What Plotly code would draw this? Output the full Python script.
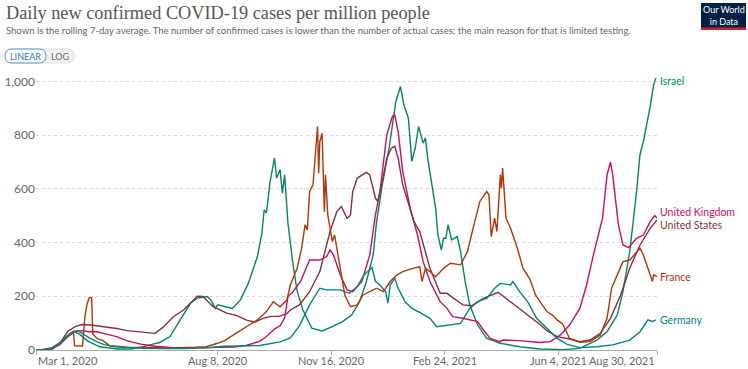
import pandas as pd
import plotly.graph_objects as go

START = pd.Timestamp("2020-03-01")

# Days since 2020-03-01 and 7-day average cases per million
israel_days = [0,7,14,21,28,33,38,45,56,72,83,92,103,109,118,127,136,142,151,154,158,160,165,173,180,187,195,199,201,203,206,210,212,215,217,219,222,226,230,235,243,252,261,270,278,285,291,297,300,305,311,317,321,324,328,331,334,337,341,343,345,349,352,354,357,359,361,363,366,371,374,378,382,389,397,409,426,444,464,479,494,503,512,517,523,529,532,535,538,541,544,546]
israel_values = [0.5,2,8,28,55,69,60,35,12,4,4,10,22,28,50,112,174,193,199,186,155,168,164,155,186,248,348,435,522,510,621,714,640,671,584,652,470,330,220,150,81,71,87,106,130,180,255,354,478,615,751,925,981,913,863,702,751,832,770,789,714,615,528,429,373,416,416,466,410,422,366,255,168,93,43,25,12,4,1.5,6,37,68,130,217,366,590,727,776,838,907,987,1012]

uk_days = [0,7,14,21,28,33,38,47,54,63,71,80,92,105,120,140,160,175,185,197,203,210,215,219,222,226,233,241,250,256,259,262,268,274,279,287,294,299,303,309,314,316,319,323,330,336,341,347,356,362,367,376,389,393,400,409,411,426,444,453,462,470,479,485,491,499,503,506,508,513,517,522,529,535,541,545,547]
uk_values = [0.3,1,4,20,50,66,72,68,68,58,50,35,22,14,9,8,9,11,17,32,50,78,90,120,200,215,255,335,335,348,373,354,280,224,217,255,354,503,590,801,870,875,813,665,520,429,329,255,180,155,124,118,106,81,43,31,37,35,28,31,56,93,155,242,354,490,652,699,652,466,391,381,416,428,478,500,491]

us_days = [0,7,14,21,28,35,41,50,59,71,80,95,105,112,121,130,142,147,156,168,177,186,193,200,207,214,221,224,232,241,250,259,265,269,274,277,279,283,291,294,299,301,305,309,313,316,319,323,329,333,338,347,356,362,367,376,384,394,407,418,426,435,444,450,459,468,479,488,497,506,515,523,532,541,547]
us_values = [0.1,0.5,3,25,70,88,95,92,87,80,72,65,62,85,124,149,200,199,161,137,128,110,104,118,125,125,135,149,168,217,292,441,515,534,490,503,590,640,661,652,565,553,627,714,751,758,714,615,528,478,441,304,211,211,195,168,165,192,215,180,155,125,95,72,50,43,31,37,62,118,205,304,391,453,484]

france_days = [0,7,14,21,28,33,34,41,43,45,47,49,50,54,59,65,80,100,120,140,150,160,167,176,186,195,203,209,215,221,224,230,234,237,239,241,244,246,248,249,250,252,254,255,257,261,263,268,272,277,283,288,294,300,306,312,318,323,332,338,340,343,347,352,359,365,374,380,385,391,397,399,401,404,406,409,410,411,414,418,424,429,435,440,444,450,455,459,464,470,479,488,497,503,507,512,517,523,529,532,535,539,543,544,547]
france_values = [0.5,2,8,25,50,66,16,15,121,172,195,195,60,42,35,16,10,8,8,10,12,25,37,62,87,112,143,180,161,186,242,304,379,466,447,590,615,714,832,658,776,807,515,652,503,404,428,304,205,161,168,205,217,230,217,255,280,292,304,310,255,304,292,273,304,323,317,366,453,553,590,578,422,491,441,652,602,677,491,453,379,304,264,205,180,143,130,112,96,43,29,31,56,118,230,280,329,335,366,379,354,304,255,280,273]

germany_days = [0,7,14,21,28,33,37,42,47,54,60,70,80,95,110,130,150,165,180,197,215,224,232,241,250,256,268,276,283,289,296,299,303,308,310,312,316,319,325,331,338,347,353,365,374,382,389,397,404,409,418,420,426,433,441,450,459,468,479,494,508,523,532,539,543,546]
germany_values = [0.2,1,6,25,55,70,72,58,45,30,20,12,9,6,5,5,8,14,15,17,30,45,90,168,230,224,224,211,236,280,307,255,242,217,174,242,267,230,180,155,140,118,87,93,99,155,180,192,230,248,242,255,217,180,118,81,43,21,9,12,19,37,68,112,106,112]

country_names = ["Israel", "United Kingdom", "United States", "France", "Germany"]
country_colors = ["#00875E", "#CF0A66", "#883039", "#B13507", "#00847E"]

tick_dates = ["2020-03-01", "2020-08-08", "2020-11-16", "2021-02-24", "2021-06-04", "2021-08-30"]
tick_labels = ["Mar 1, 2020", "Aug 8, 2020", "Nov 16, 2020", "Feb 24, 2021", "Jun 4, 2021", "Aug 30, 2021"]
y_ticks = [0, 200, 400, 600, 800, 1000]
y_tick_labels = ["0", "200", "400", "600", "800", "1,000"]

W, H = 748, 369
L, R, T, B = 36, 91, 76, 19
PW, PH = W - L - R, H - T - B


def px(x):
    return (x - L) / PW


def py(y):
    return (H - B - y) / PH


series = [
    (israel_days, israel_values),
    (uk_days, uk_values),
    (us_days, us_values),
    (france_days, france_values),
    (germany_days, germany_values),
]

fig = go.Figure()
for (days, vals), name, color in zip(series, country_names, country_colors):
    assert len(days) == len(vals), name
    fig.add_trace(go.Scatter(
        x=START + pd.to_timedelta(days, unit="D"), y=vals, mode="lines",
        name=name, line=dict(color=color, width=1.4), hoverinfo="skip"))

annotations = []
# x tick labels
for i, (d, lab) in enumerate(zip(tick_dates, tick_labels)):
    anchor = "left" if i == 0 else ("right" if i == len(tick_dates) - 1 else "center")
    annotations.append(dict(x=d, xref="x", y=0, yref="paper", yanchor="top", yshift=-2,
                            xanchor=anchor, text=lab, showarrow=False,
                            font=dict(family="Lato", size=11, color="#666")))

# line end labels (positions in value units; UK/US nudged apart as in the original)
label_pos = [1000, 513, 466, 272, 112]
for name, color, yv in zip(country_names, country_colors, label_pos):
    annotations.append(dict(x=1, xref="paper", xanchor="left", xshift=1, y=yv, yref="y",
                            yanchor="middle", text=name, showarrow=False,
                            font=dict(family="Lato", size=10.5, color=color)))

# title and subtitle
annotations.append(dict(x=px(4), y=py(13), xref="paper", yref="paper", xanchor="left", yanchor="middle",
                        text="Daily new confirmed COVID-19 cases per million people", showarrow=False,
                        font=dict(family="Liberation Serif", size=18.3, color="#555")))
annotations.append(dict(x=px(4), y=py(30), xref="paper", yref="paper", xanchor="left", yanchor="middle",
                        text="Shown is the rolling 7-day average. The number of confirmed cases is lower than the number of actual cases; the main reason for that is limited testing.",
                        showarrow=False, font=dict(family="Lato", size=9.5, color="#666")))
# buttons text
annotations.append(dict(x=px(25.5), y=py(56), xref="paper", yref="paper", text="LINEAR", showarrow=False,
                        yanchor="middle", xanchor="center",
                        font=dict(family="Lato", size=9, color="#3a6fc4")))
annotations.append(dict(x=px(60), y=py(56), xref="paper", yref="paper", text="LOG", showarrow=False,
                        yanchor="middle", xanchor="center",
                        font=dict(family="Lato", size=9, color="#666")))
# logo text
annotations.append(dict(x=px(724), y=py(15), xref="paper", yref="paper", text="Our World<br>in Data",
                        yanchor="middle", xanchor="center",
                        showarrow=False, font=dict(family="Lato", size=9, color="white")))


def pill(x0, x1, y0, y1, r):
    X0, X1, Y0, Y1 = px(x0), px(x1), py(y0), py(y1)
    rx, ry = r / PW, r / PH
    return (f"M{X0+rx},{Y0} L{X1-rx},{Y0} Q{X1},{Y0} {X1},{Y0-ry} L{X1},{Y1+ry} Q{X1},{Y1} {X1-rx},{Y1} "
            f"L{X0+rx},{Y1} Q{X0},{Y1} {X0},{Y1+ry} L{X0},{Y0-ry} Q{X0},{Y0} {X0+rx},{Y0} Z")


shapes = [
    dict(type="path", xref="paper", yref="paper", path=pill(5, 74, 49, 63, 7),
         fillcolor="#f2f2f2", line=dict(color="#dddddd", width=1)),
    dict(type="path", xref="paper", yref="paper", path=pill(5, 46, 49, 63, 7),
         fillcolor="white", line=dict(color="#5b8fd6", width=1)),
    dict(type="rect", xref="paper", yref="paper", x0=px(701), x1=px(746), y0=py(30), y1=py(3),
         fillcolor="#002147", line=dict(width=0)),
    dict(type="rect", xref="paper", yref="paper", x0=px(701), x1=px(746), y0=py(30), y1=py(27.5),
         fillcolor="#ce261e", line=dict(width=0)),
]

fig.update_layout(
    width=W, height=H, margin=dict(l=L, r=R, t=T, b=B, autoexpand=False),
    paper_bgcolor="white", plot_bgcolor="white", showlegend=False,
    annotations=annotations, shapes=shapes,
    font=dict(family="Lato", color="#666"),
    xaxis=dict(type="date", range=[tick_dates[0], tick_dates[-1]], showgrid=False, zeroline=False,
               showline=True, linecolor="#aaa", linewidth=1, ticks="outside", ticklen=4,
               tickcolor="#aaa", tickvals=tick_dates, showticklabels=False),
    yaxis=dict(range=[0, 1020], tickvals=y_ticks, ticktext=y_tick_labels, showgrid=True,
               gridcolor="#d9d9d9", griddash="dot", gridwidth=1, zeroline=False, showline=False,
               ticks="", ticklabelstandoff=0, tickfont=dict(family="Lato", size=12, color="#666")),
)

fig.write_html("out.html", config={"displayModeBar": False},
               post_script="document.body.style.margin='0px';")
